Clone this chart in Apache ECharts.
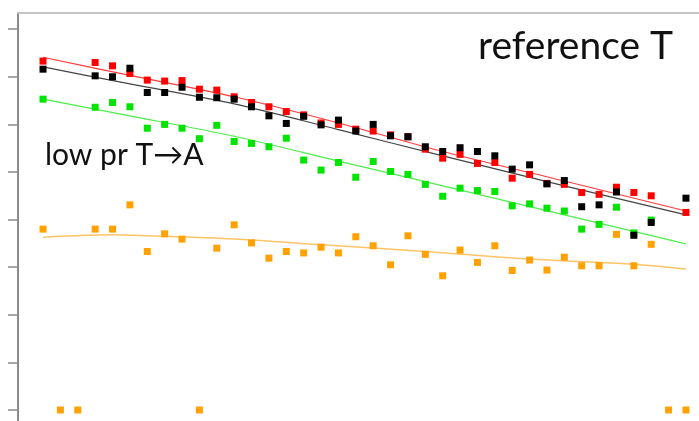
<!DOCTYPE html>
<html>
<head>
<meta charset="utf-8">
<script src="https://cdn.jsdelivr.net/npm/echarts@6/dist/echarts.min.js"></script>
<style>html,body{margin:0;padding:0;background:#fff}#c{width:699px;height:421px}</style>
</head>
<body>
<div id="c"></div>
<script>
const positions = [0,1,2,3,4,5,6,7,8,9,10,11,12,13,14,15,16,17,18,19,20,21,22,23,24,25,26,27,28,29,30,31,32,33,34,35,36,37];
const red    = [7.33,null,null,7.30,7.23,7.07,6.93,6.91,6.92,6.74,6.72,6.58,6.46,6.37,6.27,6.20,6.03,6.00,5.90,5.86,5.78,5.74,5.48,5.29,5.37,5.18,5.20,4.87,4.95,4.76,4.74,4.57,4.53,4.68,4.57,4.50,null,4.15];
const black  = [7.16,null,null,7.02,7.00,7.18,6.67,6.67,6.78,6.57,6.56,6.53,6.37,6.18,6.02,6.17,5.99,6.09,5.86,6.00,5.76,5.74,5.53,5.43,5.51,5.43,5.34,5.06,5.15,4.75,4.82,4.27,4.31,4.58,3.67,3.94,null,4.45];
const green  = [6.53,null,null,6.36,6.46,6.37,5.92,6.00,5.92,5.70,5.98,5.64,5.60,5.53,5.71,5.25,5.04,5.20,4.89,5.22,5.01,4.95,4.74,4.49,4.66,4.61,4.59,4.29,4.33,4.24,4.18,3.80,3.90,4.26,3.72,3.99,null,null];
const orange = [3.80,0,0,3.80,3.80,4.31,3.33,3.70,3.59,0,3.40,3.89,3.51,3.19,3.33,3.30,3.42,3.30,3.64,3.45,3.05,3.66,3.27,2.82,3.36,3.10,3.45,2.93,3.15,2.94,3.21,3.03,3.03,3.69,3.03,3.48,0,0];

const trendX      = [0,5,11,17,23,30,37];
const redTrend    = [7.41,7.03,6.58,6.03,5.43,4.81,4.18];
const blackTrend  = [7.21,6.85,6.43,5.89,5.34,4.71,4.10];
const greenTrend  = [6.53,6.18,5.75,5.23,4.71,4.10,3.49];
const orangeTrendX = [0,4,6,11,16,22,28,34,37];
const orangeTrend  = [3.63,3.68,3.66,3.59,3.47,3.33,3.17,3.06,2.96];

const yTicks = [0,1,2,3,4,5,6,7,8];
const titleText = 'reference T';
const noteText = 'low pr T\u2192A';

function pts(xs, ys){ const out=[]; xs.forEach((x,i)=>{ if(ys[i]!==null) out.push([x,ys[i]]); }); return out; }

const chart = echarts.init(document.getElementById('c'), null, {renderer:'canvas'});
function sc(name, data, color){
  return {name, type:'scatter', data:pts(positions,data), symbol:'rect', symbolSize:7,
    itemStyle:{color, opacity:1}, animation:false, z:3, clip:false};
}
function ln(name, xs, data, color, w){
  return {name, type:'line', data:pts(xs,data), smooth:0.3, symbol:'none',
    lineStyle:{color, width:w}, animation:false, z:2};
}
chart.setOption({
  animation:false,
  grid:{left:18, top:13, right:0, bottom:-36.6, outerBoundsMode:'none', containLabel:false},
  xAxis:{type:'value', min:-1.44, max:37.75, position:'top',
    axisLine:{show:true, onZero:false, lineStyle:{color:'#c4c4c4', width:2}},
    axisTick:{show:false}, axisLabel:{show:false}, splitLine:{show:false}},
  yAxis:{type:'value', min:-1, max:8.34, interval:1,
    axisLine:{show:true, onZero:false, lineStyle:{color:'#8a8a8a', width:2}},
    axisTick:{show:true, inside:false, length:10, customValues:yTicks, lineStyle:{color:'#8a8a8a', width:1.5}},
    axisLabel:{show:false}, splitLine:{show:false}},
  graphic:[
    {type:'text', x:478, y:27, style:{text:titleText, font:'39px Lato', fill:'#111'}},
    {type:'text', x:45, y:140, style:{text:noteText, font:'30px Lato', fill:'#111'}}
  ],
  series:[
    ln('orangeTrend', orangeTrendX, orangeTrend, '#ffc466', 1.5),
    ln('greenTrend', trendX, greenTrend, '#4cee4c', 1.2),
    ln('blackTrend', trendX, blackTrend, '#444444', 1.2),
    ln('redTrend', trendX, redTrend, '#ff3b3b', 1.2),
    sc('orange', orange, '#ffa200'),
    sc('green', green, '#00e400'),
    sc('red', red, '#ff0000'),
    sc('black', black, '#000000')
  ]
});
</script>
</body>
</html>
